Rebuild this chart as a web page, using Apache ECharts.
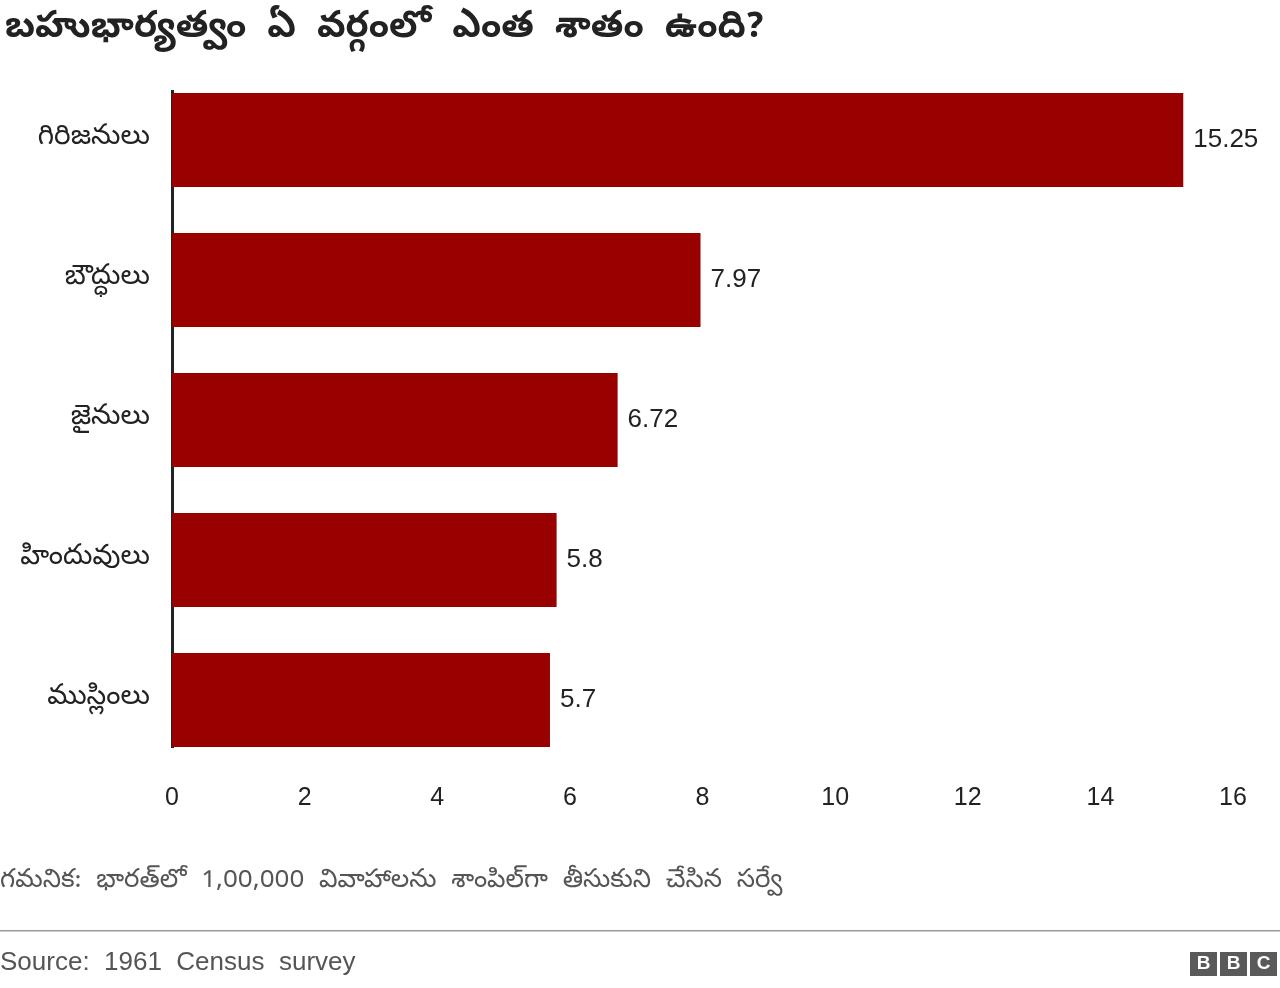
<!DOCTYPE html>
<html><head><meta charset="utf-8">
<script src="https://cdn.jsdelivr.net/npm/echarts@6/dist/echarts.min.js"></script>
<style>html,body{margin:0;padding:0;background:#fff}#c{width:1280px;height:988px}</style>
</head><body><div id="c"></div>
<script>
const categories = ['గిరిజనులు','బౌద్ధులు','జైనులు','హిందువులు','ముస్లింలు'];
const values = [15.25, 7.97, 6.72, 5.8, 5.7];
const xTicks = [0,2,4,6,8,10,12,14,16];
const F = '"Noto Sans Telugu","Noto Sans",Arial,sans-serif';
const chart = echarts.init(document.getElementById('c'));
const logo = ['B','B','C'].map((t,i)=>({type:'group',left:1190+i*30,top:952,children:[
 {type:'rect',shape:{x:0,y:0,width:27,height:24},style:{fill:'#5a5a5a'}},
 {type:'text',style:{text:t,x:13.5,y:12,fill:'#fff',font:'bold 19px Arial',align:'center',verticalAlign:'middle'}}]}));
chart.setOption({
 animation:false,
 title:{text:'బహుభార్యత్వం  ఏ  వర్గంలో  ఎంత  శాతం  ఉంది?',left:0,top:8,textStyle:{fontFamily:F,fontSize:37,fontWeight:'bold',color:'#222'}},
 grid:{left:172,right:47,top:70,bottom:218},
 xAxis:{type:'value',min:0,max:16,interval:2,splitLine:{show:false},axisLine:{show:false},axisTick:{show:false},
   axisLabel:{fontFamily:'Arial',fontSize:25,color:'#222',margin:16,formatter:v=>xTicks.includes(v)?String(v):''}},
 yAxis:{type:'category',data:categories,inverse:true,axisTick:{show:false},
   axisLine:{show:false},axisLabel:{fontFamily:F,fontSize:28,color:'#222',margin:22}},
 series:[{type:'bar',data:values,barCategoryGap:'33%',itemStyle:{color:'#990000'},
   label:{show:true,position:'right',distance:10,fontFamily:'Arial',fontSize:26,color:'#222'}}],
 graphic:[
  {type:'rect',shape:{x:171,y:90,width:3,height:658},style:{fill:'#222'}},
  {type:'text',left:0,top:870,style:{text:'గమనిక:  భారత్‌లో  1,00,000  వివాహాలను  శాంపిల్‌గా  తీసుకుని  చేసిన  సర్వే',font:'26px '+F,fill:'#555'}},
  {type:'rect',shape:{x:0,y:930,width:1280,height:1.5},style:{fill:'#999'}},
  {type:'text',left:0,top:950,style:{text:'Source:  1961  Census  survey',font:'26px Arial',fill:'#555'}},
  ...logo
 ]
});
</script></body></html>
